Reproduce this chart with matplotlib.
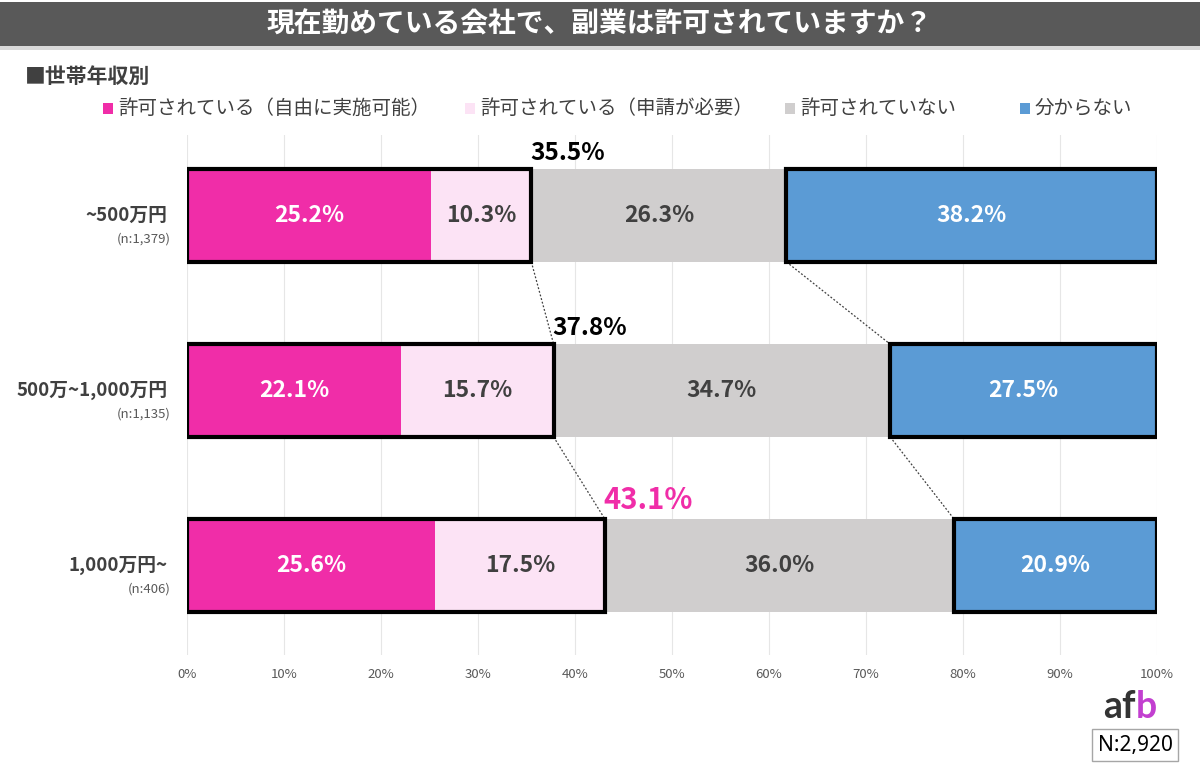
import matplotlib.pyplot as plt
from matplotlib.patches import Rectangle

plt.rcParams["font.family"] = ["Noto Sans CJK JP", "DejaVu Sans"]

title = "現在勤めている会社で、副業は許可されていますか？"
subtitle = "■世帯年収別"
groups = ["~500万円", "500万~1,000万円", "1,000万円~"]
group_n = ["(n:1,379)", "(n:1,135)", "(n:406)"]
categories = [
    "許可されている（自由に実施可能）",
    "許可されている（申請が必要）",
    "許可されていない",
    "分からない",
]
free_ok = [25.2, 22.1, 25.6]
apply_ok = [10.3, 15.7, 17.5]
not_ok = [26.3, 34.7, 36.0]
unknown = [38.2, 27.5, 20.9]
allowed_total = ["35.5%", "37.8%", "43.1%"]
total_n = "N:2,920"

colors = ["#F02DA8", "#FCE3F5", "#D0CECE", "#5B9BD5"]
text_colors = ["white", "#404040", "#404040", "white"]

fig = plt.figure(figsize=(12, 7.74), dpi=100)

# header band
fig.patches.append(Rectangle((0, 1 - 46 / 774), 1, 44 / 774, transform=fig.transFigure,
                             facecolor="#595959", edgecolor="none"))
fig.patches.append(Rectangle((0, 1 - 50 / 774), 1, 4 / 774, transform=fig.transFigure,
                             facecolor="#D9D9D9", edgecolor="none"))
fig.text(0.5, 1 - 24 / 774, title, ha="center", va="center", color="white",
         fontsize=20, fontweight="bold")
fig.text(25 / 1200, 1 - 76 / 774, subtitle, ha="left", va="center", color="#404040",
         fontsize=15, fontweight="bold")

# legend
leg_x = [103, 465, 785, 1020]
for x, lab, c in zip(leg_x, categories, colors):
    fig.patches.append(Rectangle((x / 1200, 1 - 114 / 774), 10 / 1200, 11 / 774,
                                 transform=fig.transFigure, facecolor=c, edgecolor="none"))
    fig.text((x + 15) / 1200, 1 - 108 / 774, lab, ha="left", va="center",
             color="#404040", fontsize=14)

ax = fig.add_axes([187 / 1200, 1 - 655 / 774, 970 / 1200, 520 / 774])

series = [free_ok, apply_ok, not_ok, unknown]
ypos = list(range(len(groups)))
h = 0.53
left = [0.0] * len(groups)
for vals, c, tc in zip(series, colors, text_colors):
    ax.barh(ypos, vals, left=left, height=h, color=c, edgecolor="none", zorder=2)
    for y, v, l in zip(ypos, vals, left):
        ax.text(l + v / 2, y, f"{v:.1f}%", ha="center", va="center", color=tc,
                fontsize=16.5, fontweight="bold", zorder=5)
    left = [a + b for a, b in zip(left, vals)]

allowed = [a + b for a, b in zip(free_ok, apply_ok)]
unk_start = [a + b for a, b in zip(allowed, not_ok)]

# black outlines
ax.barh(ypos, allowed, height=h, fill=False, edgecolor="black", linewidth=3, zorder=4)
ax.barh(ypos, unknown, left=unk_start, height=h, fill=False, edgecolor="black",
        linewidth=3, zorder=4)

# connector lines
for i in range(len(groups) - 1):
    for xs in (allowed, unk_start):
        ax.plot([xs[i], xs[i + 1]], [i + h / 2, i + 1 - h / 2], color="#404040",
                linestyle=(0, (1.5, 1.5)), linewidth=0.9, zorder=3)

# totals
for i, (x, lab) in enumerate(zip(allowed, allowed_total)):
    last = i == len(groups) - 1
    ax.annotate(lab, xy=(x, i - h / 2), xytext=(-1, 3), textcoords="offset points",
                ha="left", va="bottom", fontweight="bold",
                fontsize=21 if last else 17.5, color=colors[0] if last else "black")

# row labels
for i, (g, n) in enumerate(zip(groups, group_n)):
    ax.annotate(g, xy=(0, i), xytext=(-14, 0), textcoords="offset points",
                ha="right", va="center", fontsize=13.5, fontweight="bold", color="#404040")
    ax.annotate(n, xy=(0, i), xytext=(-12, -17), textcoords="offset points",
                ha="right", va="center", fontsize=9.5, color="#595959")

ax.set_xlim(0, 100)
ax.set_ylim(2.51, -0.46)
ax.set_xticks(range(0, 101, 10))
ax.set_xticklabels([f"{t}%" for t in range(0, 101, 10)])
ax.tick_params(axis="x", length=0, pad=9, labelsize=9.5, labelcolor="#595959")
ax.set_yticks([])
ax.grid(axis="x", color="#E6E6E6", linewidth=0.8, zorder=0)
ax.set_axisbelow(True)
for s in ax.spines.values():
    s.set_visible(False)

# logo and N box
fig.text(1136 / 1200, 1 - 707 / 774, "af", ha="right", va="center", fontsize=27,
         fontweight="bold", color="#333333", family=["Lato", "DejaVu Sans"])
fig.text(1136 / 1200, 1 - 707 / 774, "b", ha="left", va="center", fontsize=27,
         fontweight="bold", color="#C23FD0", family=["Lato", "DejaVu Sans"])
fig.text(1135 / 1200, 1 - 745 / 774, total_n, ha="center", va="center", fontsize=15,
         color="black", family=["Noto Sans", "DejaVu Sans"],
         bbox=dict(boxstyle="square,pad=0.25", facecolor="white", edgecolor="#A6A6A6",
                   linewidth=1))

fig.savefig("out.png", dpi=100)
